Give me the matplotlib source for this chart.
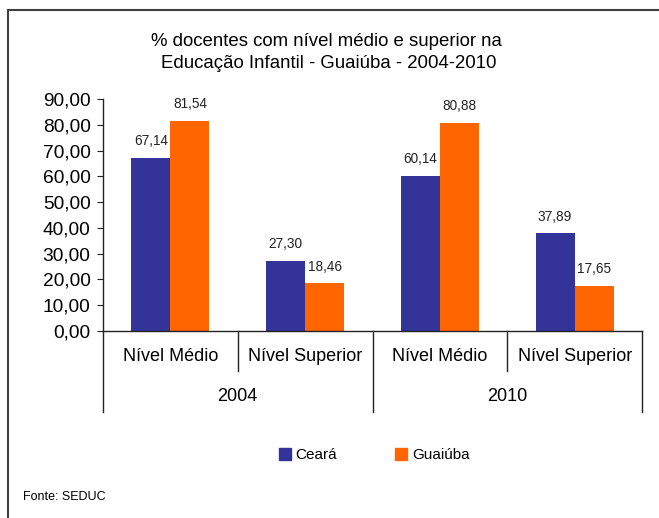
import matplotlib
matplotlib.use("Agg")
import matplotlib.pyplot as plt
from matplotlib.lines import Line2D
from matplotlib.patches import Patch
import matplotlib.transforms as mtransforms

plt.rcParams['font.family'] = ['Liberation Sans', 'DejaVu Sans']

# === DONNÉES ===
categorias = ["Nível Médio", "Nível Superior", "Nível Médio", "Nível Superior"]
anos = ["2004", "2010"]
ceara = [67.14, 27.30, 60.14, 37.89]
guaiuba = [81.54, 18.46, 80.88, 17.65]
yticks = [0, 10, 20, 30, 40, 50, 60, 70, 80, 90]

cor_ceara = "#333399"
cor_guaiuba = "#FF6600"

fig = plt.figure(figsize=(6.59, 5.18), dpi=100)
ax = fig.add_axes([103 / 659, 1 - 331 / 518, (642 - 103) / 659, (331 - 99) / 518])

# cadre extérieur (coin supérieur gauche seulement visible)
fig.add_artist(Line2D([8 / 659, 1.0], [1 - 10 / 518, 1 - 10 / 518], color="#404040", lw=1.5))
fig.add_artist(Line2D([8 / 659, 8 / 659], [0.0, 1 - 10 / 518], color="#404040", lw=1.5))

x = list(range(len(categorias)))
w = 0.29
b1 = ax.bar([i - w / 2 for i in x], ceara, width=w, color=cor_ceara)
b2 = ax.bar([i + w / 2 for i in x], guaiuba, width=w, color=cor_guaiuba)

for barras, valores in [(b1, ceara), (b2, guaiuba)]:
    for b, v in zip(barras, valores):
        ax.annotate(f"{v:.2f}".replace(".", ","),
                    (b.get_x() + b.get_width() / 2, v),
                    xytext=(0, 7), textcoords="offset points",
                    ha="center", va="bottom", fontsize=9.8, color="#222222")

ax.set_xlim(-0.5, len(categorias) - 0.5)
ax.set_ylim(0, 90)
ax.set_yticks(yticks)
ax.set_yticklabels([f"{t:.2f}".replace(".", ",") for t in yticks], fontsize=13.8)
ax.tick_params(axis="y", direction="out", length=4, pad=5, color="#222222")
ax.set_xticks([])

for s in ["top", "right"]:
    ax.spines[s].set_visible(False)
for s in ["left", "bottom"]:
    ax.spines[s].set_color("#222222")
    ax.spines[s].set_linewidth(1)

# étiquettes hiérarchiques de l'axe x
trans = mtransforms.blended_transform_factory(ax.transData, ax.transAxes)
for i, c in enumerate(categorias):
    ax.text(i, -0.112, c, transform=trans, ha="center", va="center", fontsize=13)
for j, a in enumerate(anos):
    ax.text(2 * j + 0.5, -0.284, a, transform=trans, ha="center", va="center", fontsize=13)

# séparateurs
for xs in [0.5, 2.5]:
    ax.plot([xs, xs], [0, -0.172], transform=trans, color="#222222", lw=1, clip_on=False)
for xs in [-0.5, 1.5, 3.5]:
    ax.plot([xs, xs], [0, -0.349], transform=trans, color="#222222", lw=1, clip_on=False)

fig.text(326 / 659, 1 - 41 / 518, "% docentes com nível médio e superior na",
         ha="center", va="center", fontsize=13.4)
fig.text(329 / 659, 1 - 64 / 518, "Educação Infantil - Guaiúba - 2004-2010",
         ha="center", va="center", fontsize=13.4)

handles = [Patch(color=cor_ceara, label="Ceará"), Patch(color=cor_guaiuba, label="Guaiúba")]
fig.legend(handles=handles, loc="center", bbox_to_anchor=(374 / 659, 1 - 455 / 518),
           ncol=2, frameon=False, fontsize=11, handlelength=0.8, handleheight=0.8,
           handletextpad=0.3, columnspacing=3.8)

fig.text(23 / 659, 1 - 497 / 518, "Fonte: SEDUC", ha="left", va="center", fontsize=9)

fig.savefig("out.png", dpi=100)
plt.close(fig)
